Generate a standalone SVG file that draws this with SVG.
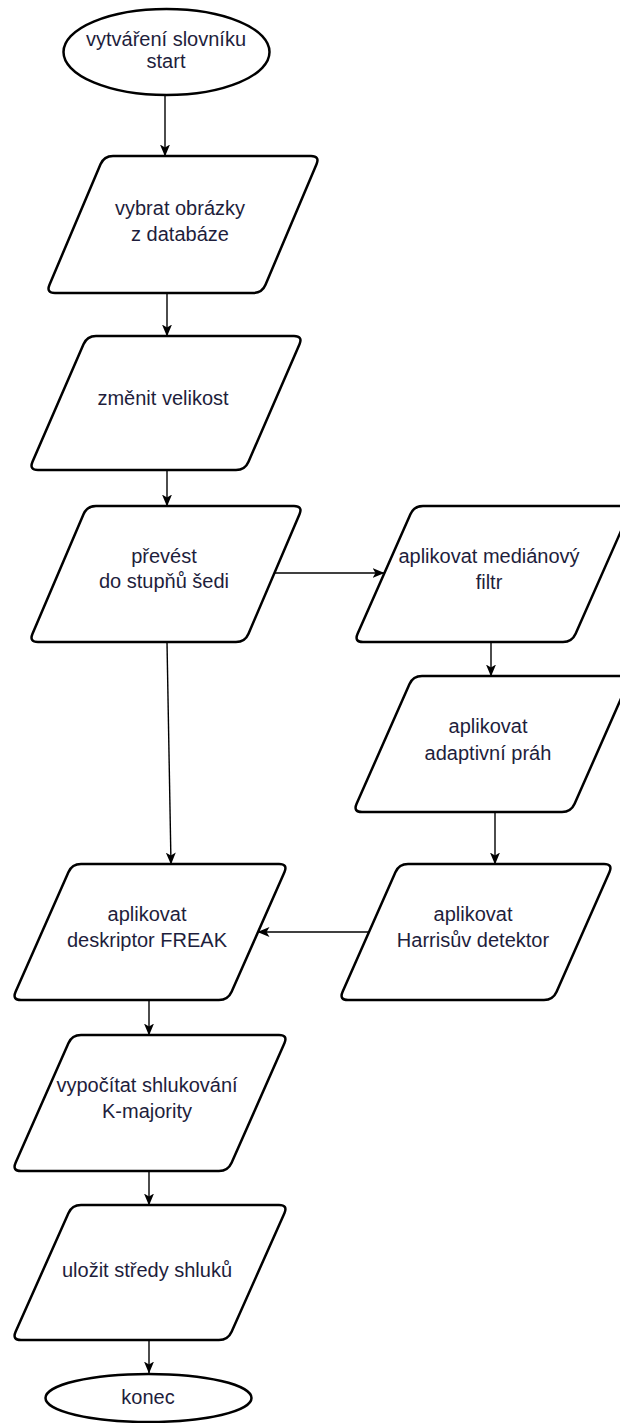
<svg xmlns="http://www.w3.org/2000/svg" width="620" height="1423" viewBox="0 0 620 1423">
  <style>
    .shape { fill: #ffffff; stroke: #000000; stroke-width: 2.5; stroke-linejoin: round; }
    .edge { fill: none; stroke: #000000; stroke-width: 1.4; }
    .label { font-family: "Liberation Sans", Arial, sans-serif; font-size: 20px; fill: #1e1e3c; text-anchor: middle; }
  </style>
  <defs>
    <marker id="arrow" viewBox="0 0 12 10" refX="11.5" refY="5" markerWidth="12" markerHeight="10" markerUnits="userSpaceOnUse" orient="auto">
      <path d="M0,0 L12,5 L0,10 L3,5 Z" fill="#000000"/>
    </marker>
  </defs>
  <rect width="620" height="1423" fill="#ffffff"/>

  <g id="connectors">
    <path class="edge" d="M165,95 L165,156" marker-end="url(#arrow)"/>
    <path class="edge" d="M167,293 L167,336" marker-end="url(#arrow)"/>
    <path class="edge" d="M167,470 L167,506" marker-end="url(#arrow)"/>
    <path class="edge" d="M167,642 L171,864" marker-end="url(#arrow)"/>
    <path class="edge" d="M275,573 L384,573" marker-end="url(#arrow)"/>
    <path class="edge" d="M491,642 L491,676" marker-end="url(#arrow)"/>
    <path class="edge" d="M495,812 L495,864" marker-end="url(#arrow)"/>
    <path class="edge" d="M369,932 L258,932" marker-end="url(#arrow)"/>
    <path class="edge" d="M149,1000 L149,1035" marker-end="url(#arrow)"/>
    <path class="edge" d="M149,1171 L149,1205" marker-end="url(#arrow)"/>
    <path class="edge" d="M149,1340 L149,1373" marker-end="url(#arrow)"/>
  </g>

  <g id="start">
    <ellipse class="shape" cx="166.5" cy="52" rx="103" ry="43"/>
    <text class="label" x="166" y="46">vytváření slovníku</text>
    <text class="label" x="166" y="68">start</text>
  </g>

  <g id="vybrat">
    <path class="shape" d="M113,156 L311,156 Q320,156 316.5,164.3 L265.5,284.7 Q262,293 253,293 L55,293 Q46,293 49.5,284.7 L100.5,164.3 Q104,156 113,156 Z"/>
    <text class="label" x="180" y="215">vybrat obrázky</text>
    <text class="label" x="180" y="241">z databáze</text>
  </g>

  <g id="zmenit">
    <path class="shape" d="M96,336 L294,336 Q303,336 299.5,344.3 L248.5,461.7 Q245,470 236,470 L38,470 Q29,470 32.5,461.7 L83.5,344.3 Q87,336 96,336 Z"/>
    <text class="label" x="163" y="405">změnit velikost</text>
  </g>

  <g id="prevest">
    <path class="shape" d="M96,506 L294,506 Q303,506 299.5,514.3 L248.5,633.7 Q245,642 236,642 L38,642 Q29,642 32.5,633.7 L83.5,514.3 Q87,506 96,506 Z"/>
    <text class="label" x="164" y="563">převést</text>
    <text class="label" x="164" y="588">do stupňů šedi</text>
  </g>

  <g id="median">
    <path class="shape" d="M423,506 L623,506 Q632,506 628.4,514.2 L575.6,633.8 Q572,642 563,642 L363,642 Q354,642 357.6,633.8 L410.4,514.2 Q414,506 423,506 Z"/>
    <text class="label" x="489" y="563">aplikovat mediánový</text>
    <text class="label" x="489" y="589">filtr</text>
  </g>

  <g id="adaptivni">
    <path class="shape" d="M422,676 L622,676 Q631,676 627.4,684.2 L574.6,803.8 Q571,812 562,812 L362,812 Q353,812 356.6,803.8 L409.4,684.2 Q413,676 422,676 Z"/>
    <text class="label" x="488" y="733">aplikovat</text>
    <text class="label" x="488" y="760">adaptivní práh</text>
  </g>

  <g id="harris">
    <path class="shape" d="M408,864 L604,864 Q613,864 609.4,872.2 L556.6,991.8 Q553,1000 544,1000 L348,1000 Q339,1000 342.6,991.8 L395.4,872.2 Q399,864 408,864 Z"/>
    <text class="label" x="473" y="921">aplikovat</text>
    <text class="label" x="473" y="947">Harrisův detektor</text>
  </g>

  <g id="freak">
    <path class="shape" d="M81,864 L279,864 Q288,864 284.4,872.2 L231.6,991.8 Q228,1000 219,1000 L21,1000 Q12,1000 15.6,991.8 L68.4,872.2 Q72,864 81,864 Z"/>
    <text class="label" x="147" y="921">aplikovat</text>
    <text class="label" x="147" y="947">deskriptor FREAK</text>
  </g>

  <g id="shlukovani">
    <path class="shape" d="M81,1035 L279,1035 Q288,1035 284.4,1043.2 L231.6,1162.8 Q228,1171 219,1171 L21,1171 Q12,1171 15.6,1162.8 L68.4,1043.2 Q72,1035 81,1035 Z"/>
    <text class="label" x="147" y="1092">vypočítat shlukování</text>
    <text class="label" x="147" y="1118">K-majority</text>
  </g>

  <g id="ulozit">
    <path class="shape" d="M81,1205 L279,1205 Q288,1205 284.4,1213.2 L231.6,1331.8 Q228,1340 219,1340 L21,1340 Q12,1340 15.6,1331.8 L68.4,1213.2 Q72,1205 81,1205 Z"/>
    <text class="label" x="147" y="1277">uložit středy shluků</text>
  </g>

  <g id="konec">
    <ellipse class="shape" cx="148.5" cy="1398" rx="103" ry="24"/>
    <text class="label" x="148" y="1404">konec</text>
  </g>
</svg>
